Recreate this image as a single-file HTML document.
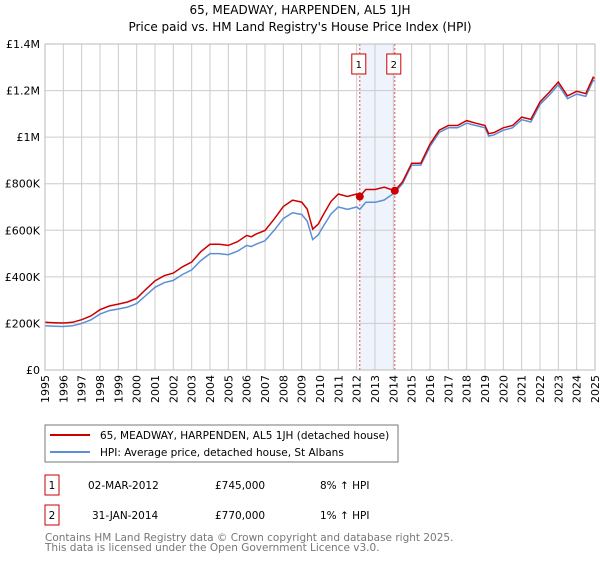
<!DOCTYPE html>
<html><head><meta charset="utf-8"><style>
body{margin:0;background:#fff;font-family:"Liberation Sans","DejaVu Sans",sans-serif;}
svg text{font-family:"DejaVu Sans","Liberation Sans",sans-serif;}
</style></head><body>
<svg id="chart" width="600" height="560" xmlns="http://www.w3.org/2000/svg">
<text x="300" y="14" text-anchor="middle" font-size="12">65, MEADWAY, HARPENDEN, AL5 1JH</text>
<text x="300" y="31" text-anchor="middle" font-size="12">Price paid vs. HM Land Registry's House Price Index (HPI)</text>
<g id="grid"></g><g id="marks"></g><g id="axes"></g>
<rect x="45" y="425" width="353" height="37" fill="#fff" stroke="#777"/>
<line x1="50" y1="435" x2="90" y2="435" stroke="#cc0000" stroke-width="2"/>
<text x="100" y="439" font-size="10.5">65, MEADWAY, HARPENDEN, AL5 1JH (detached house)</text>
<line x1="50" y1="452" x2="90" y2="452" stroke="#5b8fd6" stroke-width="2"/>
<text x="100" y="456" font-size="10.5">HPI: Average price, detached house, St Albans</text>
<rect x="45" y="475" width="14" height="20" fill="#fff" stroke="#cc0000"/>
<text x="52" y="489" font-size="10.5" text-anchor="middle">1</text>
<text x="88" y="489" font-size="10.5">02-MAR-2012</text>
<text x="215" y="489" font-size="10.5">£745,000</text>
<text x="320" y="489" font-size="10.5">8% ↑ HPI</text>
<rect x="45" y="505" width="14" height="20" fill="#fff" stroke="#cc0000"/>
<text x="52" y="519" font-size="10.5" text-anchor="middle">2</text>
<text x="92" y="519" font-size="10.5">31-JAN-2014</text>
<text x="215" y="519" font-size="10.5">£770,000</text>
<text x="320" y="519" font-size="10.5">1% ↑ HPI</text>
<text x="45" y="541" font-size="10.5" fill="#777">Contains HM Land Registry data © Crown copyright and database right 2025.</text>
<text x="45" y="551" font-size="10.5" fill="#777">This data is licensed under the Open Government Licence v3.0.</text>
</svg>
<script>
const times=[1995,1995.5,1996,1996.5,1997,1997.5,1998,1998.5,1999,1999.5,2000,2000.5,2001,2001.5,2002,2002.5,2003,2003.5,2004,2004.5,2005,2005.5,2006,2006.25,2006.5,2007,2007.5,2008,2008.5,2009,2009.3,2009.6,2009.9,2010.2,2010.6,2011,2011.5,2012,2012.17,2012.5,2013,2013.5,2014.08,2014.5,2015,2015.5,2016,2016.5,2017,2017.5,2018,2018.5,2019,2019.2,2019.5,2020,2020.5,2021,2021.5,2022,2022.5,2023,2023.5,2024,2024.5,2024.9,2025];
const hpi=[190,188,187,190,200,215,240,255,262,270,285,320,355,375,385,410,430,470,500,500,495,510,535,530,540,555,600,650,675,668,640,560,580,620,670,700,690,700,690,720,720,730,762,800,880,880,960,1020,1040,1040,1060,1050,1040,1005,1010,1030,1040,1075,1065,1140,1180,1225,1165,1185,1175,1245,1240];
const prop=[205,203,202,205,216,232,259,275,283,292,308,346,383,405,416,443,464,508,540,540,535,551,578,572,583,599,648,702,729,721,691,605,626,670,724,756,745,756,745,775,775,785,770,808,888,888,970,1030,1050,1050,1071,1060,1050,1015,1020,1040,1050,1086,1076,1151,1192,1237,1177,1197,1187,1257,1252];
const saleT=[2012.17,2014.08];
const saleV=[745,770];
const yTicks=[0,200,400,600,800,1000,1200,1400];
const yLabels=["£0","£200K","£400K","£600K","£800K","£1M","£1.2M","£1.4M"];
const years=[1995,1996,1997,1998,1999,2000,2001,2002,2003,2004,2005,2006,2007,2008,2009,2010,2011,2012,2013,2014,2015,2016,2017,2018,2019,2020,2021,2022,2023,2024,2025];
const NS="http://www.w3.org/2000/svg";
const X=t=>45+(t-1995)*550/30, Y=v=>370-v*326/1400;
function mk(tag,attrs,parent,txt){const e=document.createElementNS(NS,tag);for(const k in attrs)e.setAttribute(k,attrs[k]);if(txt!==undefined)e.textContent=txt;document.getElementById(parent).appendChild(e);return e;}
const band=mk('rect',{x:X(saleT[0]),y:44,width:X(saleT[1])-X(saleT[0]),height:326,fill:'#eef3fc'},'grid');


years.forEach(y=>{const l=mk('line',{x1:X(y),x2:X(y),y1:44,y2:370,stroke:'#ccc'},'grid');


const t=mk('text',{x:0,y:0,'font-size':11,'text-anchor':'end',transform:`translate(${X(y)+4},375) rotate(-90)`},'axes',y);

});
yTicks.forEach((v,i)=>{const l=mk('line',{x1:45,x2:595,y1:Y(v),y2:Y(v),stroke:'#ccc'},'grid');


const t=mk('text',{x:40,y:Y(v)+4,'font-size':11,'text-anchor':'end'},'axes',yLabels[i]);

});
saleT.forEach((t,i)=>{const l=mk('line',{x1:X(t),x2:X(t),y1:44,y2:370,stroke:'#e05050','stroke-dasharray':'2,2'},'marks');


const r=mk('rect',{x:X(t)-8,y:54,width:14,height:20,fill:'#fff',stroke:'#cc0000'},'marks');


mk('text',{x:X(t)-1,y:68,'font-size':10,'text-anchor':'middle'},'marks',String(i+1));});
const pts=a=>a.map((v,i)=>X(times[i]).toFixed(1)+','+Y(v).toFixed(1)).join(' ');
const hl=mk('polyline',{points:pts(hpi),fill:'none',stroke:'#5b8fd6','stroke-width':1.5},'marks');


const pl=mk('polyline',{points:pts(prop),fill:'none',stroke:'#cc0000','stroke-width':1.5},'marks');


saleT.forEach((t,i)=>{const c=mk('circle',{cx:X(t),cy:Y(saleV[i]),r:4,fill:'#cc0000'},'marks');

});
const ax=mk('rect',{x:45,y:44,width:550,height:326,fill:'none',stroke:'#bbb'},'axes');


</script>
</body></html>
